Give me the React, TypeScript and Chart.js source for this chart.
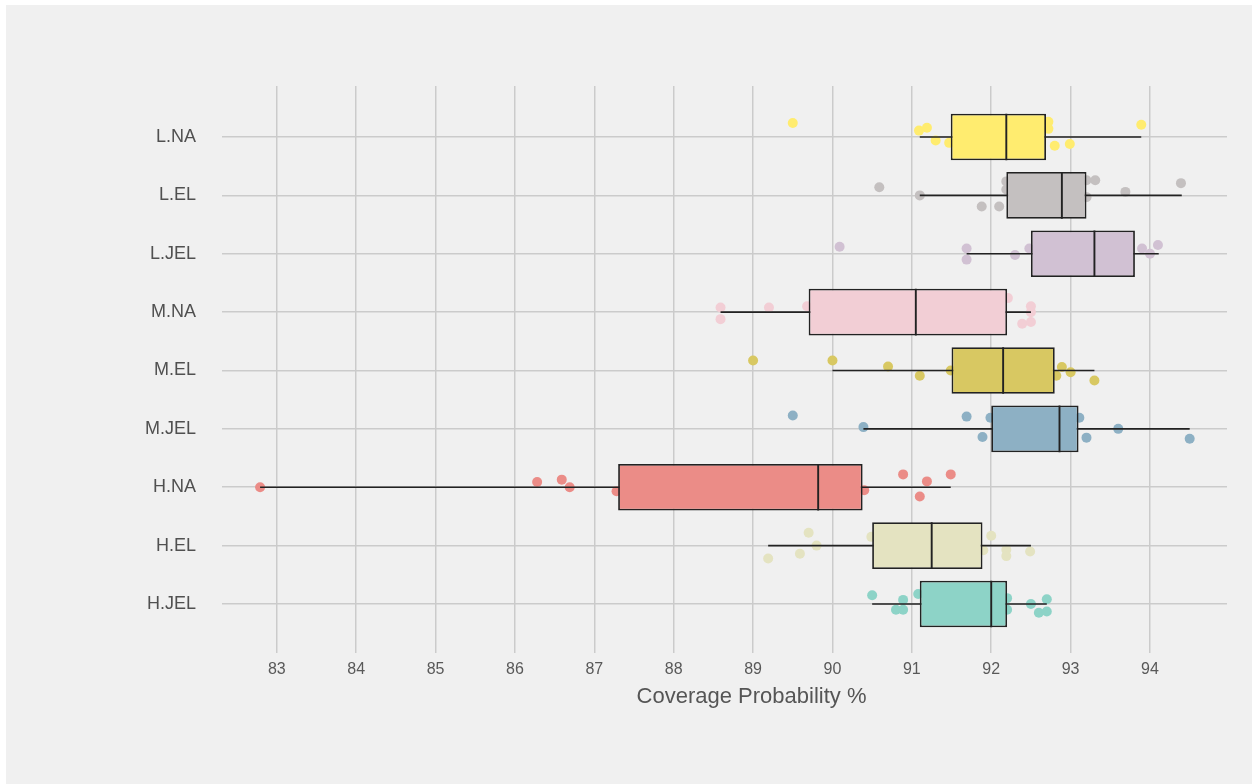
import React, { useEffect, useRef } from "react";
import { Chart, registerables } from "chart.js";

Chart.register(...registerables);

// Scenario groups, top to bottom
const categories = ["L.NA", "L.EL", "L.JEL", "M.NA", "M.EL", "M.JEL", "H.NA", "H.EL", "H.JEL"];

// Box-plot summary per group (coverage probability, %)
const whiskerLow = [91.1, 91.1, 91.69, 88.59, 90.0, 90.39, 82.79, 89.19, 90.5];
const q1 = [91.49, 92.19, 92.5, 89.7, 91.5, 92.0, 87.3, 90.5, 91.1];
const median = [92.19, 92.89, 93.3, 91.05, 92.15, 92.86, 89.82, 91.25, 92.0];
const q3 = [92.69, 93.2, 93.81, 92.2, 92.8, 93.1, 90.38, 91.89, 92.2];
const whiskerHigh = [93.89, 94.4, 94.11, 92.5, 93.3, 94.5, 91.49, 92.5, 92.7];

// Individual replicate results per group
const pointValues = [
  [89.5, 91.09, 91.19, 91.3, 91.47, 92.72, 92.72, 92.8, 92.99, 93.89],
  [90.59, 91.1, 91.88, 92.1, 92.19, 92.19, 93.2, 93.31, 93.2, 93.69, 94.39],
  [90.09, 91.69, 91.69, 92.3, 92.48, 93.9, 94.0, 94.1],
  [88.59, 88.59, 89.2, 89.68, 92.21, 92.5, 92.5, 92.39, 92.5],
  [89.0, 90.0, 90.7, 91.1, 91.49, 92.89, 93.0, 92.82, 93.3],
  [89.5, 90.39, 91.69, 91.89, 91.99, 93.11, 93.2, 93.6, 94.5],
  [82.79, 86.28, 86.59, 86.69, 87.28, 90.4, 90.89, 91.19, 91.49, 91.1],
  [89.19, 89.59, 89.7, 89.8, 90.49, 91.9, 92.0, 92.19, 92.19, 92.49],
  [90.5, 90.89, 90.8, 90.89, 91.08, 92.2, 92.2, 92.5, 92.7, 92.6, 92.7],
];

// Vertical jitter of each replicate point (in category units)
const pointJitter = [
  [-0.24, -0.11, -0.16, 0.06, 0.1, -0.26, -0.14, 0.15, 0.12, -0.21],
  [-0.14, 0.0, 0.19, 0.19, -0.24, -0.1, -0.26, -0.26, 0.03, -0.06, -0.21],
  [-0.12, -0.09, 0.1, 0.02, -0.09, -0.09, 0.0, -0.15],
  [-0.08, 0.12, -0.08, -0.1, -0.24, -0.1, 0.0, 0.2, 0.17],
  [-0.17, -0.17, -0.07, 0.09, 0.0, -0.06, 0.03, 0.09, 0.17],
  [-0.23, -0.03, -0.21, 0.14, -0.19, -0.19, 0.15, 0.0, 0.17],
  [0.0, -0.09, -0.13, 0.0, 0.07, 0.05, -0.22, -0.1, -0.22, 0.16],
  [0.22, 0.14, -0.22, 0.0, -0.15, 0.08, -0.17, 0.07, 0.18, 0.1],
  [-0.15, -0.07, 0.1, 0.1, -0.17, -0.1, 0.1, 0.0, -0.08, 0.15, 0.13],
];

const xTicks = [83, 84, 85, 86, 87, 88, 89, 90, 91, 92, 93, 94];
const xTitle = "Coverage Probability %";

const groupColors = [
  "#FFEC6F", "#C4C0C0", "#D1C1D3", "#F2CED5", "#D8C862",
  "#8DB0C4", "#EB8C87", "#E4E3C1", "#8DD3C7",
];

const FONT = "'Liberation Sans', Arial, sans-serif";
const GRID = "#CBCBCB";
const INK = "#222222";
const BOX_HALF = 0.4;

// Draws the x-axis title a little right of the panel centre, under the tick labels
const xTitlePlugin = {
  id: "xTitle",
  afterDraw(chart: any) {
    const { ctx, chartArea } = chart;
    ctx.save();
    ctx.font = `22px ${FONT}`;
    ctx.fillStyle = "#555555";
    ctx.textAlign = "center";
    ctx.textBaseline = "middle";
    ctx.fillText(xTitle, (chartArea.left + chartArea.right) / 2 + 27, chartArea.bottom + 49);
    ctx.restore();
  },
};

export default function App() {
  const canvasRef = useRef<HTMLCanvasElement | null>(null);

  useEffect(() => {
    const canvas = canvasRef.current;
    if (!canvas) return;

    const pointSets = categories.map((name, i) => ({
      type: "scatter" as const,
      label: name + " points",
      data: pointValues[i].map((v, k) => ({ x: v, y: i + pointJitter[i][k] })),
      backgroundColor: groupColors[i],
      borderWidth: 0,
      pointRadius: 5,
      pointHoverRadius: 5,
      order: 4,
    }));

    const whiskers = {
      type: "scatter" as const,
      label: "whiskers",
      data: categories.flatMap((_, i) => [
        { x: whiskerLow[i], y: i },
        { x: whiskerHigh[i], y: i },
        { x: null, y: null },
      ]),
      showLine: true,
      spanGaps: false,
      borderColor: INK,
      borderWidth: 1.6,
      pointRadius: 0,
      pointHoverRadius: 0,
      order: 3,
    };

    const boxes = {
      type: "bar" as const,
      label: "boxes",
      data: categories.map((_, i) => ({ x: [q1[i], q3[i]], y: i })),
      backgroundColor: groupColors,
      borderColor: INK,
      borderWidth: 1.8,
      borderSkipped: false,
      categoryPercentage: 1,
      barPercentage: 0.8,
      order: 2,
    };

    const medians = {
      type: "scatter" as const,
      label: "medians",
      data: categories.flatMap((_, i) => [
        { x: median[i], y: i - BOX_HALF },
        { x: median[i], y: i + BOX_HALF },
        { x: null, y: null },
      ]),
      showLine: true,
      spanGaps: false,
      borderColor: INK,
      borderWidth: 1.9,
      pointRadius: 0,
      pointHoverRadius: 0,
      order: 1,
    };

    const chart = new Chart(canvas, {
      type: "bar",
      data: { datasets: [...pointSets, whiskers, boxes, medians] as any },
      plugins: [xTitlePlugin],
      options: {
        indexAxis: "y",
        animation: false,
        responsive: false,
        maintainAspectRatio: false,
        devicePixelRatio: 1,
        layout: { padding: { top: 81, right: 25, left: 0, bottom: 0 } },
        plugins: {
          legend: { display: false },
          tooltip: { enabled: false },
        },
        scales: {
          x: {
            type: "linear",
            position: "bottom",
            min: 82.31,
            max: 94.97,
            offset: false,
            afterBuildTicks: (s: any) => {
              s.ticks = xTicks.map((v) => ({ value: v }));
            },
            afterFit: (s: any) => {
              s.height = 136;
            },
            border: { display: false },
            grid: { color: GRID, lineWidth: 1.5, drawTicks: true, tickLength: 5, offset: false },
            ticks: {
              color: "#595959",
              padding: 7,
              font: { family: FONT, size: 16 },
            },
          },
          y: {
            type: "linear",
            position: "left",
            reverse: true,
            offset: false,
            min: -0.874,
            max: 8.754,
            afterBuildTicks: (s: any) => {
              s.ticks = categories.map((_, i) => ({ value: i }));
            },
            afterFit: (s: any) => {
              s.width = 216;
            },
            border: { display: false },
            grid: { color: GRID, lineWidth: 1.5, drawTicks: false, offset: false },
            ticks: {
              color: "#505050",
              padding: 26,
              font: { family: FONT, size: 18 },
              callback: (v: any) => categories[Math.round(Number(v))] ?? "",
            },
          },
        },
      } as any,
    });

    return () => chart.destroy();
  }, []);

  return (
    <div
      style={{
        position: "absolute",
        left: 6,
        top: 5,
        width: 1246,
        height: 779,
        background: "#F0F0F0",
      }}
    >
      <canvas ref={canvasRef} width={1246} height={779} style={{ display: "block" }} />
    </div>
  );
}
